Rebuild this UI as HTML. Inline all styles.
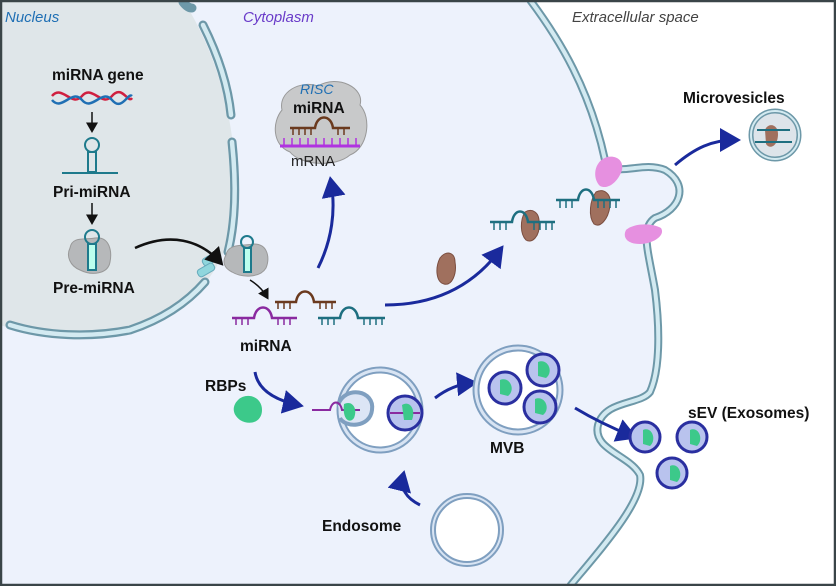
<!DOCTYPE html>
<html><head><meta charset="utf-8"><style>
html,body{margin:0;padding:0;background:#fff}
svg{display:block}
text{font-family:"Liberation Sans",sans-serif}
.b{font-weight:bold;font-size:15.5px;fill:#111}
</style></head><body>
<svg width="836" height="586" viewBox="0 0 836 586" xmlns="http://www.w3.org/2000/svg">
<defs>
<marker id="ab" markerWidth="8" markerHeight="8" refX="5" refY="4" orient="auto" markerUnits="strokeWidth"><path d="M0,0 L7,4 L0,8z" fill="#1a2a9c"/></marker>
<marker id="ak" markerWidth="8" markerHeight="8" refX="5" refY="4" orient="auto" markerUnits="strokeWidth"><path d="M0,0 L7,4 L0,8z" fill="#111"/></marker>
</defs>
<rect width="836" height="586" fill="#fff"/>
<!-- cell -->
<path d="M0,0 L530,0 C560,40 590,90 605,160 C615,180 640,160 665,170 C690,185 680,210 655,218 C640,228 648,250 655,290 C660,330 660,370 650,392 C640,405 605,400 598,425 C592,450 630,455 640,475 C645,500 600,550 570,586 L0,586Z" fill="#edf2fc"/>
<path d="M530,0 C560,40 590,90 605,160 C615,180 640,160 665,170 C690,185 680,210 655,218 C640,228 648,250 655,290 C660,330 660,370 650,392 C640,405 605,400 598,425 C592,450 630,455 640,475 C645,500 600,550 570,586" fill="none" stroke="#6d98a8" stroke-width="8"/>
<path d="M530,0 C560,40 590,90 605,160 C615,180 640,160 665,170 C690,185 680,210 655,218 C640,228 648,250 655,290 C660,330 660,370 650,392 C640,405 605,400 598,425 C592,450 630,455 640,475 C645,500 600,550 570,586" fill="none" stroke="#d3eaf1" stroke-width="4"/>
<!-- nucleus -->
<path d="M0,0 L183,0 C215,50 238,120 235,200 C232,260 200,310 130,330 C80,340 30,335 0,325Z" fill="#dfe6e9"/>
<g fill="none" stroke="#6d98a8" stroke-width="9" stroke-linecap="round">
<path d="M183,2 C186,6 189,8 192,8"/>
<path d="M203,25 C218,55 228,85 231,115"/>
<path d="M232,142 C236,180 236,220 228,252"/>
<path d="M205,282 C185,305 160,320 130,330 C90,338 45,336 10,325"/>
</g>
<g fill="none" stroke="#d3eaf1" stroke-width="4.5" stroke-linecap="round">
<path d="M203,25 C218,55 228,85 231,115"/>
<path d="M232,142 C236,180 236,220 228,252"/>
<path d="M205,282 C185,305 160,320 130,330 C90,338 45,336 10,325"/>
</g>
<rect x="202" y="255" width="18" height="8" rx="3" fill="#8fd6dd" stroke="#6ab" transform="rotate(-30 211 259)"/>
<rect x="197" y="266" width="18" height="8" rx="3" fill="#8fd6dd" stroke="#6ab" transform="rotate(-30 206 270)"/>
<!-- labels -->
<text x="5" y="22" font-size="15" font-style="italic" fill="#1f6fb4">Nucleus</text>
<text x="243" y="22" font-size="15" font-style="italic" fill="#6a3cc9">Cytoplasm</text>
<text x="572" y="22" font-size="15" font-style="italic" fill="#444">Extracellular space</text>
<text x="52" y="80" class="b">miRNA gene</text>
<path d="M52,96 C62,84 72,108 82,96 C92,84 102,108 112,96 C122,84 128,104 132,98" fill="none" stroke="#d02040" stroke-width="2.5"/>
<path d="M52,100 C62,112 72,88 82,100 C92,112 102,88 112,100 C122,112 128,92 132,96" fill="none" stroke="#1f6fb4" stroke-width="2.5"/>
<line x1="92" y1="112" x2="92" y2="130" stroke="#111" stroke-width="1.5" marker-end="url(#ak)"/>
<circle cx="92" cy="145" r="7" fill="none" stroke="#1e7a8c" stroke-width="2"/>
<rect x="88" y="152" width="8" height="20" fill="none" stroke="#1e7a8c" stroke-width="2"/>
<line x1="62" y1="173" x2="118" y2="173" stroke="#1e7a8c" stroke-width="2"/>
<text x="53" y="197" class="b">Pri-miRNA</text>
<line x1="92" y1="203" x2="92" y2="222" stroke="#111" stroke-width="1.5" marker-end="url(#ak)"/>
<path d="M70,248 C72,236 85,240 95,238 C110,236 112,252 110,262 C108,274 92,276 80,270 C70,266 66,256 70,248Z" fill="#b6b8ba" stroke="#999"/>
<circle cx="92" cy="237" r="7" fill="none" stroke="#1e7a8c" stroke-width="2"/>
<rect x="88" y="244" width="8" height="26" fill="#bfe" stroke="#1e7a8c" stroke-width="2"/>
<text x="53" y="293" class="b">Pre-miRNA</text>
<path d="M135,248 C170,232 200,240 220,262" fill="none" stroke="#111" stroke-width="2.5" marker-end="url(#ak)"/>
<path d="M226,255 C228,243 244,246 254,244 C268,244 270,258 266,268 C260,278 242,278 232,272 C224,268 222,262 226,255Z" fill="#b6b8ba" stroke="#999"/>
<circle cx="247" cy="242" r="6" fill="none" stroke="#1e7a8c" stroke-width="2"/>
<rect x="244" y="248" width="7" height="24" fill="#bfe" stroke="#1e7a8c" stroke-width="2"/>
<path d="M250,280 C258,285 263,290 267,297" fill="none" stroke="#111" stroke-width="1.5" marker-end="url(#ak)"/>
<!-- miRNAs -->
<g fill="none" stroke-width="2.5">
<path d="M275,302 L296,302 C298,288 312,288 314,302 L336,302" stroke="#6b3a1e"/>
<path d="M278,302v7M284,302v7M290,302v7M320,302v7M326,302v7M332,302v7" stroke="#6b3a1e" stroke-width="1.5"/>
<path d="M232,318 L254,318 C256,304 270,304 272,318 L297,318" stroke="#8a2aa0"/>
<path d="M236,318v7M242,318v7M248,318v7M278,318v7M284,318v7M290,318v7" stroke="#8a2aa0" stroke-width="1.5"/>
<path d="M318,318 L340,318 C342,304 356,304 358,318 L385,318" stroke="#1e6f80"/>
<path d="M322,318v7M328,318v7M334,318v7M364,318v7M370,318v7M376,318v7M382,318v7" stroke="#1e6f80" stroke-width="1.5"/>
</g>
<text x="240" y="351" class="b">miRNA</text>
<!-- RISC -->
<path d="M282,110 C278,92 300,80 318,86 C338,74 365,88 360,105 C372,118 368,148 350,155 C335,168 300,165 290,152 C272,145 272,122 282,110Z" fill="#c8c9ca" stroke="#999"/>
<text x="300" y="94" font-size="14" font-style="italic" fill="#1f6fb4">RISC</text>
<text x="293" y="113" class="b">miRNA</text>
<path d="M290,128 L315,128 C317,114 331,114 333,128 L350,128" fill="none" stroke="#6b3a1e" stroke-width="2.5"/>
<path d="M293,128v7M299,128v7M305,128v7M311,128v7M338,128v7M344,128v7" stroke="#6b3a1e" stroke-width="1.5"/>
<line x1="280" y1="146" x2="360" y2="146" stroke="#b033e0" stroke-width="3"/>
<path d="M284,138v8M292,138v8M300,138v8M308,138v8M316,138v8M324,138v8M332,138v8M340,138v8M348,138v8M356,138v8" stroke="#b033e0" stroke-width="1.5"/>
<text x="291" y="166" font-size="15" fill="#222">mRNA</text>
<path d="M318,268 C332,240 336,210 331,182" fill="none" stroke="#1a2a9c" stroke-width="3" marker-end="url(#ab)"/>
<path d="M385,305 C430,305 470,290 500,250" fill="none" stroke="#1a2a9c" stroke-width="3" marker-end="url(#ab)"/>
<!-- brown proteins -->
<g fill="#a0705e" stroke="#7b4e40">
<path d="M440,258 C446,250 455,252 455,262 C457,274 452,286 444,284 C436,282 435,268 440,258Z"/>
<path d="M525,212 C532,208 540,212 539,224 C540,236 532,244 526,240 C520,234 520,220 525,212Z"/>
<path d="M596,192 C604,188 612,194 610,206 C608,220 600,228 594,224 C588,216 590,200 596,192Z"/>
</g>
<g fill="none" stroke-width="2.5">
<path d="M490,222 L512,222 C514,208 526,208 528,222 L555,222" stroke="#1e6f80"/>
<path d="M494,222v8M500,222v8M506,222v8M534,222v8M540,222v8M546,222v8M552,222v8" stroke="#1e6f80" stroke-width="1.5"/>
<path d="M556,200 L578,200 C580,186 592,186 594,200 L620,200" stroke="#1e6f80"/>
<path d="M560,200v8M566,200v8M572,200v8M598,200v8M604,200v8M610,200v8M616,200v8" stroke="#1e6f80" stroke-width="1.5"/>
</g>
<g fill="#e690e0">
<path d="M598,164 C605,152 625,155 622,170 C618,182 608,190 600,186 C594,180 594,170 598,164Z"/>
<path d="M626,230 C632,224 650,222 661,228 C666,236 652,244 640,244 C628,244 622,238 626,230Z"/>
</g>
<text x="683" y="103" class="b">Microvesicles</text>
<path d="M675,165 C695,148 712,140 735,140" fill="none" stroke="#1a2a9c" stroke-width="3" marker-end="url(#ab)"/>
<circle cx="775" cy="135" r="24" fill="#dde4ea" stroke="#6d98a8" stroke-width="5"/>
<circle cx="775" cy="135" r="24" fill="none" stroke="#d3eaf1" stroke-width="2"/>
<path d="M765,130 C768,122 778,124 778,134 C778,146 770,150 766,144Z" fill="#a0705e"/>
<path d="M757,130 L790,130 M755,142 L792,142" stroke="#1e6f80" stroke-width="2"/>
<!-- RBPs -->
<text x="205" y="391" class="b">RBPs</text>
<path d="M238,400 C246,392 262,396 262,410 C262,422 250,426 240,420 C232,414 232,406 238,400Z" fill="#3cc98a"/>
<path d="M255,372 C258,390 275,400 298,405" fill="none" stroke="#1a2a9c" stroke-width="3" marker-end="url(#ab)"/>
<!-- endosome with pocket -->
<circle cx="380" cy="410" r="40" fill="#fff" stroke="#7f9fc0" stroke-width="7"/>
<circle cx="380" cy="410" r="40" fill="none" stroke="#d8e4f3" stroke-width="3"/>
<path d="M338,405 C345,385 375,390 372,410 C370,428 345,428 340,418" fill="#dce5f5" stroke="#7f9fc0" stroke-width="4"/>
<path d="M312,410 L330,410 C332,400 340,400 342,410 L360,410" fill="none" stroke="#8a2aa0" stroke-width="2"/>
<path d="M344,404 C352,400 358,408 354,418 C350,424 342,420 344,404Z" fill="#3cc98a"/>
<circle cx="405" cy="413" r="17" fill="#b9c3ee" stroke="#2a2fa0" stroke-width="3"/>
<path d="M390,413 L420,413" stroke="#8a2aa0" stroke-width="2"/>
<path d="M402,405 C410,400 416,410 412,420 L404,420Z" fill="#3cc98a"/>
<path d="M435,398 C448,388 460,384 472,383" fill="none" stroke="#1a2a9c" stroke-width="3" marker-end="url(#ab)"/>
<!-- MVB -->
<circle cx="518" cy="390" r="42" fill="#fff" stroke="#7f9fc0" stroke-width="7"/>
<circle cx="518" cy="390" r="42" fill="none" stroke="#d8e4f3" stroke-width="3"/>
<g fill="#b9c3ee" stroke="#2a2fa0" stroke-width="3">
<circle cx="505" cy="388" r="16"/><circle cx="543" cy="370" r="16"/><circle cx="540" cy="407" r="16"/>
</g>
<g fill="#3cc98a"><path d="M500,380 C510,376 516,390 508,396 L500,394Z"/><path d="M538,362 C548,358 554,372 546,378 L538,376Z"/><path d="M535,399 C545,395 551,409 543,415 L535,413Z"/></g>
<text x="490" y="453" class="b">MVB</text>
<path d="M575,408 C595,420 612,428 632,436" fill="none" stroke="#1a2a9c" stroke-width="3" marker-end="url(#ab)"/>
<text x="688" y="418" class="b">sEV (Exosomes)</text>
<g fill="#b9c3ee" stroke="#2a2fa0" stroke-width="3">
<circle cx="645" cy="437" r="15"/><circle cx="692" cy="437" r="15"/><circle cx="672" cy="473" r="15"/>
</g>
<g fill="#3cc98a"><path d="M643,430 C652,426 657,440 650,446 L643,444Z"/><path d="M690,430 C699,426 704,440 697,446 L690,444Z"/><path d="M670,466 C679,462 684,476 677,482 L670,480Z"/></g>
<!-- endosome -->
<path d="M420,505 C406,498 400,488 403,476" fill="none" stroke="#1a2a9c" stroke-width="3" marker-end="url(#ab)"/>
<text x="322" y="531" class="b">Endosome</text>
<circle cx="467" cy="530" r="34" fill="#fff" stroke="#7f9fc0" stroke-width="6"/>
<circle cx="467" cy="530" r="34" fill="none" stroke="#d8e4f3" stroke-width="2"/>
<rect x="1" y="1" width="834" height="584" fill="none" stroke="#3a4548" stroke-width="2.5"/>
</svg>
</body></html>
